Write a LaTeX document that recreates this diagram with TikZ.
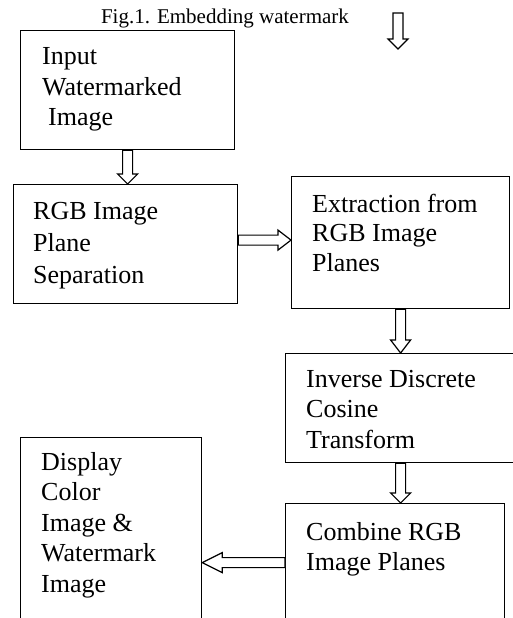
\documentclass[tikz,border=0pt]{standalone}
\usepackage{fontspec}
\setmainfont{Liberation Serif}
\usetikzlibrary{calc}
\def\bahl{10pt}\def\basw{5pt}\def\bahw{10pt}
\tikzset{
  box/.style={draw, line width=1.2pt, inner sep=0pt, anchor=north west},
  txt/.style={anchor=base west, inner sep=0pt, font=\fontsize{26}{30.5}\selectfont},
  headlen/.code={\def\bahl{#1}},
  barrow/.style={draw=black, line width=1.2pt, fill=white, line join=miter,
    to path={
      ($(\tikztostart)!\basw!90:(\tikztotarget)$)
      -- ($(\tikztotarget)!\bahl!(\tikztostart)!\basw!-90:(\tikztostart)$)
      -- ($(\tikztotarget)!\bahl!(\tikztostart)!\bahw!-90:(\tikztostart)$)
      -- (\tikztotarget)
      -- ($(\tikztotarget)!\bahl!(\tikztostart)!\bahw!90:(\tikztostart)$)
      -- ($(\tikztotarget)!\bahl!(\tikztostart)!\basw!90:(\tikztostart)$)
      -- ($(\tikztostart)!\basw!-90:(\tikztotarget)$)
      -- cycle
    }}
}
\begin{document}
\begin{tikzpicture}[x=1pt,y=-1pt]
\useasboundingbox (0,0) rectangle (512,618);
% caption
\node[anchor=base, inner sep=0pt, font=\fontsize{21}{25}\selectfont] (cap) at (225,24) {Fig.1. Embedding watermark};
% boxes
\node[box, minimum width=214pt, minimum height=119pt] (b1) at (20,30) {};
\node[box, minimum width=224pt, minimum height=119pt] (b2) at (13,184) {};
\node[box, minimum width=218pt, minimum height=132pt] (b3) at (291,176) {};
\node[box, minimum width=230pt, minimum height=109pt] (b4) at (285,353) {};
\node[box, minimum width=219pt, minimum height=125pt] (b5) at (285,503) {};
\node[box, minimum width=181pt, minimum height=190pt] (b6) at (20,437) {};
% texts
\node[txt] (t1) at (42,65) {\parbox[t]{200pt}{Input\\Watermarked\\\hspace*{6pt}Image}};
\node[txt] (t2) at (33,219) {\parbox[t]{200pt}{\baselineskip=32pt RGB Image\\Plane\\Separation}};
\node[txt] (t3) at (312,212) {\parbox[t]{200pt}{\baselineskip=29.5pt Extraction from\\RGB Image\\Planes}};
\node[txt] (t4) at (306,387) {\parbox[t]{200pt}{Inverse Discrete\\Cosine\\Transform}};
\node[txt] (t5) at (306,540) {\parbox[t]{200pt}{Combine RGB\\Image Planes}};
\node[txt] (t6) at (41,470) {\parbox[t]{170pt}{Display\\Color\\Image \&\\Watermark\\Image}};
% arrows
\coordinate (a0s) at (398,13);
\coordinate (a0e) at (398,49);
\path[barrow] (a0s) to (a0e);
\path[barrow] (b1.south) to (b1.south |- b2.north);
\path[barrow, headlen=13pt] ([yshift=4pt]b2.east) to ([yshift=4pt]b2.east -| b3.west);
\path[barrow, headlen=13pt] (b3.south) to (b3.south |- b4.north);
\path[barrow] (b4.south) to (b4.south |- b5.north);
\path[barrow, headlen=20pt] ([yshift=3.5pt]b5.west) to ([yshift=3.5pt]b5.west -| b6.east);
\end{tikzpicture}
\end{document}
